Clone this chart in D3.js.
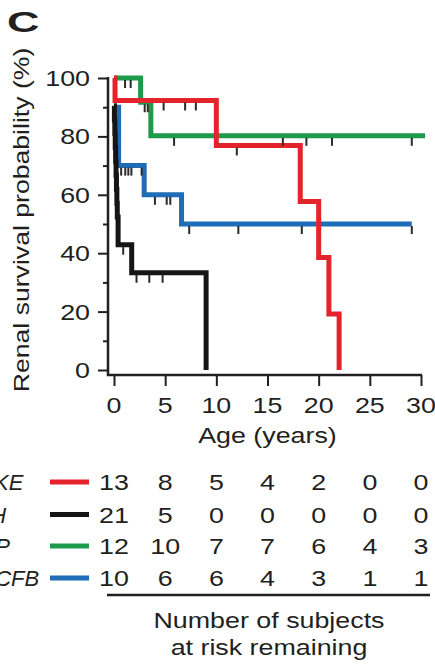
<!DOCTYPE html>
<html>
<head>
<meta charset="utf-8">
<script src="https://cdn.jsdelivr.net/npm/d3@7"></script>
<style>
  html, body { margin: 0; padding: 0; background: #fff; overflow: hidden; }
  text { font-family: "Liberation Sans", Arial, Helvetica, sans-serif; fill: #231f20; }
</style>
</head>
<body>
<svg id="chart" width="435" height="665"></svg>
<script>
// ---- data -------------------------------------------------------------
const groups = ["DGKE", "CFH", "MCP", "C3/CFB"];
const colors = ["#e5232b", "#151515", "#1e9a4b", "#1f6db6"];

// Kaplan–Meier curves: step times (years) and survival (%) from each time on
const dgkeTimes = [0, 0.1, 10.0, 18.2, 20.0, 21.0, 22.0];
const dgkeSurv  = [100, 92.3, 76.9, 57.7, 38.5, 19.2, 0];
const dgkeCensored = [4.85, 6.95, 8.0, 12.0];

const cfhTimes = [0, 0.04, 0.08, 0.12, 0.16, 0.2, 0.24, 0.28, 0.32, 0.4, 1.73, 9.0];
const cfhSurv  = [90.5, 85.7, 81.0, 76.2, 71.4, 66.7, 61.9, 57.1, 52.4, 42.9, 33.3, 0];
const cfhCensored = [0.9, 2.2, 3.45, 4.75];

const mcpTimes = [0, 2.6, 3.6, 30.4];
const mcpSurv  = [100, 91.7, 80.2, 80.2];
const mcpCensored = [1.08, 1.63, 3.0, 3.3, 5.87, 16.5, 18.8, 21.3, 29.1];

const cfbTimes = [0, 0.45, 2.95, 6.6, 29.1];
const cfbSurv  = [90, 70, 60, 50, 50];
const cfbCensored = [0.7, 1.1, 1.4, 1.7, 2.7, 4.0, 5.15, 5.5, 7.35, 12.15, 18.35, 29.1];

// number at risk at each x tick
const atRiskDGKE = [13, 8, 5, 4, 2, 0, 0];
const atRiskCFH  = [21, 5, 0, 0, 0, 0, 0];
const atRiskMCP  = [12, 10, 7, 7, 6, 4, 3];
const atRiskCFB  = [10, 6, 6, 4, 3, 1, 1];

const xTicks = [0, 5, 10, 15, 20, 25, 30];
const yTicks = [0, 20, 40, 60, 80, 100];
const yMinorTicks = [10, 30, 50, 70, 90];

const series = [
  { name: groups[3], color: colors[3], t: cfbTimes,  s: cfbSurv,  c: cfbCensored,  risk: atRiskCFB },
  { name: groups[1], color: colors[1], t: cfhTimes,  s: cfhSurv,  c: cfhCensored,  risk: atRiskCFH },
  { name: groups[2], color: colors[2], t: mcpTimes,  s: mcpSurv,  c: mcpCensored,  risk: atRiskMCP },
  { name: groups[0], color: colors[0], t: dgkeTimes, s: dgkeSurv, c: dgkeCensored, risk: atRiskDGKE }
];
const tableOrder = [series[3], series[1], series[2], series[0]];

// ---- layout -----------------------------------------------------------
const SX = 1.22;            // horizontal widening of the lettering
const FS = 22;
const svg = d3.select("#chart");

const x = d3.scaleLinear().domain([0, 30]).range([114, 421]);
const y = d3.scaleLinear().domain([0, 100]).range([370, 78]);
const axisX = 108, axisY = 375;

function label(g, str, px, py, anchor, extra) {
  const t = g.append("text")
    .attr("transform", `translate(${px},${py}) scale(${SX},1)`)
    .attr("text-anchor", anchor || "start")
    .attr("font-size", FS)
    .text(str);
  if (extra) extra(t);
  return t;
}

// panel letter
svg.append("text")
  .attr("transform", "translate(7,32) scale(1.5,1)")
  .attr("font-size", 30).attr("font-weight", "bold")
  .text("C");

// ---- axes -------------------------------------------------------------
const axStroke = "#231f20";
const gy = svg.append("g").attr("transform", `translate(${axisX},0)`);
gy.call(d3.axisLeft(y).tickValues(yTicks).tickSize(10).tickFormat(""));
gy.call(g => g.select(".domain").remove());
const gyMinor = svg.append("g").attr("transform", `translate(${axisX},0)`);
gyMinor.call(d3.axisLeft(y).tickValues(yMinorTicks).tickSize(5).tickFormat(""));
gyMinor.select(".domain").remove();
svg.selectAll(".tick line").attr("stroke", axStroke).attr("stroke-width", 2);

yTicks.forEach(v => label(svg, String(v), 90, y(v), "end", t => t.attr("dy", "0.36em")));

const gx = svg.append("g").attr("transform", `translate(0,${axisY})`);
gx.call(d3.axisBottom(x).tickValues(xTicks).tickSize(11).tickFormat(""));
gx.select(".domain").remove();
gx.selectAll(".tick line").attr("stroke", axStroke).attr("stroke-width", 2);
xTicks.forEach(v => label(svg, String(v), x(v), 413, "middle"));

svg.append("path")
  .attr("d", `M${axisX},${y(100) - 1}V${axisY}H${x(30) + 1}`)
  .attr("fill", "none").attr("stroke", axStroke).attr("stroke-width", 2.5);

label(svg, "Age (years)", (x(0) + x(30)) / 2, 443, "middle");

svg.append("text")
  .attr("transform", `translate(28.5,220) rotate(-90) scale(1.21,1)`)
  .attr("text-anchor", "middle").attr("font-size", FS)
  .text("Renal survival probability (%)");

// ---- survival curves --------------------------------------------------
const stepLine = d3.line().x(d => x(d[0])).y(d => y(d[1])).curve(d3.curveStepAfter);
series.forEach(sr => {
  const pts = sr.t.map((t, i) => [t, sr.s[i]]);
  svg.append("path")
    .attr("d", stepLine(pts))
    .attr("fill", "none")
    .attr("stroke", sr.color)
    .attr("stroke-width", 5)
    .attr("stroke-linejoin", "miter");
});

// censoring marks, hanging below each curve
series.forEach(sr => {
  sr.c.forEach(ct => {
    const i = d3.bisectRight(sr.t, ct) - 1;
    const yy = y(sr.s[Math.max(0, i)]);
    svg.append("line")
      .attr("x1", x(ct)).attr("x2", x(ct))
      .attr("y1", yy + 2).attr("y2", yy + 10)
      .attr("stroke", "#2a2a2a").attr("stroke-width", 2);
  });
});

// ---- number-at-risk table ---------------------------------------------
const rowCenters = [482, 514.5, 546, 578];
tableOrder.forEach((sr, r) => {
  const cy = rowCenters[r];
  label(svg, sr.name, -39, cy + 8, "start", t => t.attr("font-style", "italic").attr("transform", `translate(-39,${cy + 8})`));
  svg.append("line")
    .attr("x1", 50).attr("x2", 89).attr("y1", cy).attr("y2", cy)
    .attr("stroke", sr.color).attr("stroke-width", 5);
  sr.risk.forEach((n, k) => label(svg, String(n), x(xTicks[k]), cy + 8, "middle"));
});

svg.append("line")
  .attr("x1", 107).attr("x2", 430).attr("y1", 595).attr("y2", 595)
  .attr("stroke", axStroke).attr("stroke-width", 2.5);
label(svg, "Number of subjects", 269, 628, "middle");
label(svg, "at risk remaining", 269, 655, "middle");
</script>
</body>
</html>
